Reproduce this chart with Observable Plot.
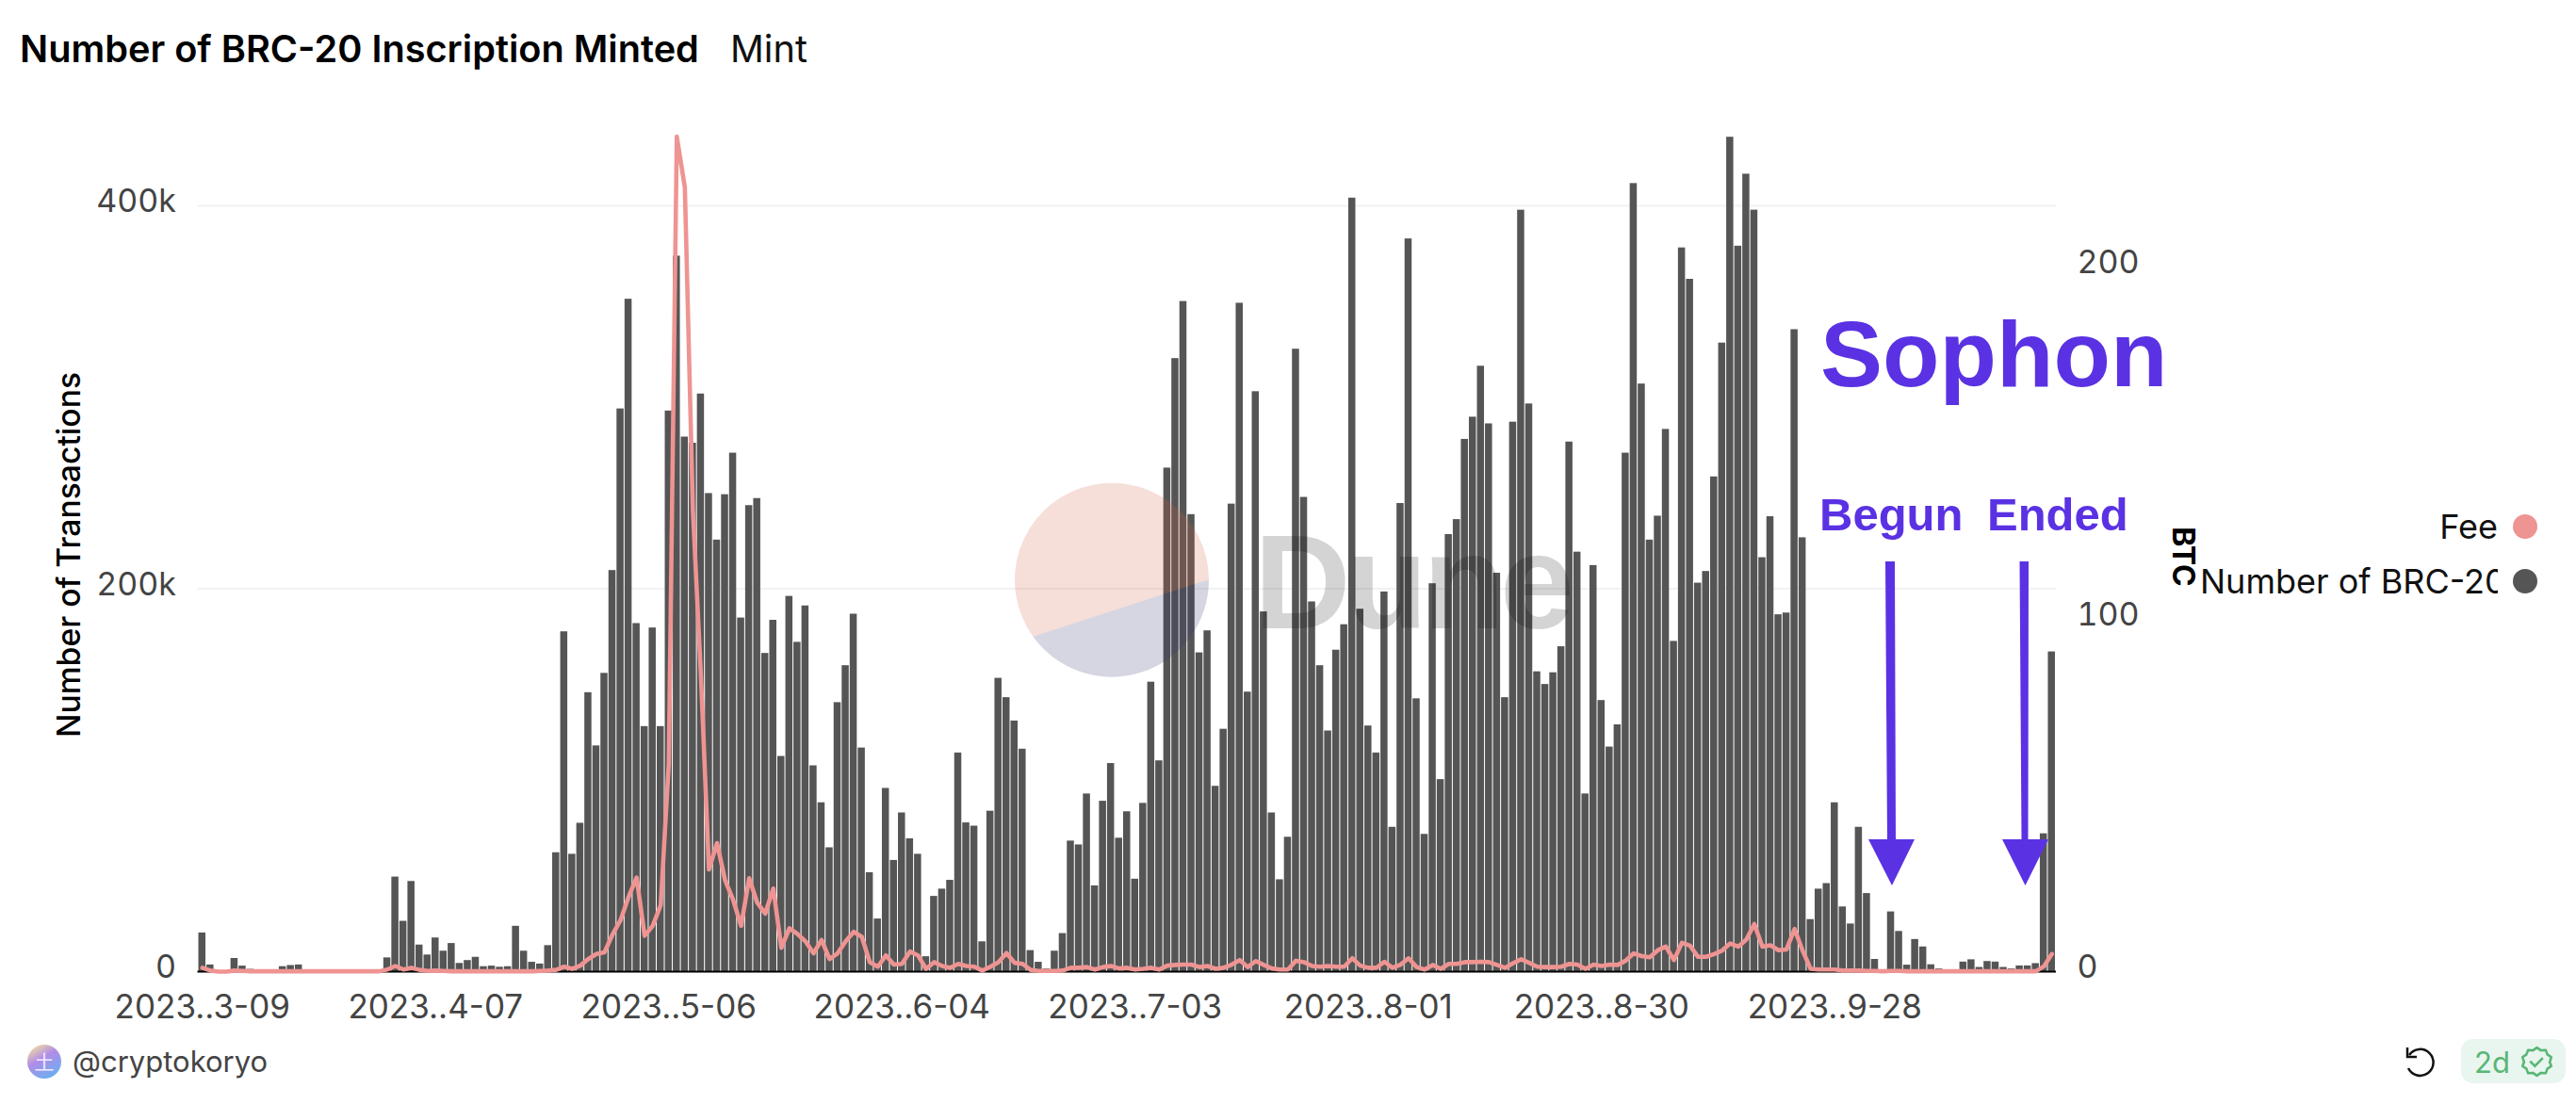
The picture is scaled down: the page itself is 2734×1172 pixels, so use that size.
<!DOCTYPE html>
<html>
<head>
<meta charset="utf-8">
<script src="https://cdn.jsdelivr.net/npm/d3@7"></script>
<script src="https://cdn.jsdelivr.net/npm/@observablehq/plot@0.6"></script>
<style>
html,body{margin:0;padding:0;background:#fff;width:2734px;height:1172px;overflow:hidden;}
#page{position:relative;width:2734px;height:1172px;font-family:Inter,"Noto Sans",sans-serif;}
#head{height:100px;position:relative;}
#title{position:absolute;left:21px;top:28px;font-size:39.7px;font-weight:600;color:#000;white-space:nowrap;}
#mint{position:absolute;left:775px;top:28px;font-size:39.7px;font-weight:400;color:#111;white-space:nowrap;}
#over{position:absolute;left:0;top:0;pointer-events:none;}
</style>
</head>
<body>
<div id="page">
  <div id="head">
    <div id="title">Number of BRC-20 Inscription Minted</div>
    <div id="mint">Mint</div>
  </div>
  <div id="chart"></div>
  <svg id="over" width="2734" height="1172" xmlns="http://www.w3.org/2000/svg">
    <defs>
      <linearGradient id="av" x1="0.2" y1="0" x2="0.8" y2="1">
        <stop offset="0" stop-color="#f2dfa0"/>
        <stop offset="0.4" stop-color="#b08ce8"/>
        <stop offset="1" stop-color="#62b4f0"/>
      </linearGradient>
      <clipPath id="legclip"><rect x="2330" y="590" width="321" height="60"/></clipPath>
    </defs>
    <!-- watermark -->
    <path d="M1283 615.3 A103 103 0 1 0 1096.4 675.8 Z" fill="rgba(210,95,65,0.2)"/>
    <path d="M1283 615.3 A103 103 0 0 1 1096.4 675.8 Z" fill="rgba(44,50,110,0.2)"/>
    <text x="1331" y="667" font-family="'Liberation Sans',sans-serif" font-weight="700" font-size="142" fill="rgba(0,0,0,0.17)" textLength="340" lengthAdjust="spacing">Dune</text>
    <!-- annotations -->
    <g fill="#5a32e3" font-family="'Liberation Sans',sans-serif" font-weight="700">
      <text x="1932" y="410" font-size="99">Sophon</text>
      <text x="1931" y="563" font-size="49">Begun</text>
      <text x="2109" y="563" font-size="49">Ended</text>
      <path d="M2001 596 L2011 596 L2012 891 L2032 891 L2008 940 L1983 891 L2003 891 Z"/>
      <path d="M2143.5 596 L2153 596 L2152.5 891 L2174 891 L2149.5 940 L2125 891 L2145.5 891 Z"/>
    </g>
    <!-- legend -->
    <g font-family="Inter,'Noto Sans',sans-serif" font-size="36" fill="#111">
      <text x="2651" y="572" text-anchor="end">Fee</text>
      <text x="2335" y="630" clip-path="url(#legclip)">Number of BRC-20</text>
      <circle cx="2680" cy="559" r="13" fill="#ee9492"/>
      <circle cx="2680" cy="617" r="13" fill="#555555"/>
    </g>
    <!-- footer -->
    <circle cx="47" cy="1127" r="18" fill="url(#av)"/>
    <text x="47" y="1135" text-anchor="middle" font-size="21" fill="#f3eaff" font-family="'Noto Sans CJK SC',sans-serif">土</text>
    <text x="77" y="1138" font-family="Inter,'Noto Sans',sans-serif" font-size="31" fill="#444">@cryptokoryo</text>
    <path d="M2557 1120 A14 14 0 1 1 2556 1134" fill="none" stroke="#111" stroke-width="2.5"/>
    <path d="M2555 1112 L2555 1122 L2565 1122" fill="none" stroke="#111" stroke-width="2.5"/>
    <rect x="2612" y="1103" width="111" height="47" rx="13" fill="#e9f5ef"/>
    <text x="2626" y="1139" font-family="Inter,'Noto Sans',sans-serif" font-size="31" fill="#58b675">2d</text>
    <g transform="translate(2692.5,1127) scale(0.85) translate(-2692.5,-1129.5)">
      <path d="M2692.5 1112 l5 3.5 6 -.5 2 5.5 5 3.5 -2 6 2 5 -5 3.5 -2 5.5 -6 -.5 -5 3.5 -5 -3.5 -6 .5 -2 -5.5 -5 -3.5 2 -5 -2 -6 5 -3.5 2 -5.5 6 .5 Z" fill="none" stroke="#58b675" stroke-width="3" stroke-linejoin="round"/>
      <path d="M2684 1129 l6 6 l10 -10" fill="none" stroke="#58b675" stroke-width="3"/>
    </g>
  </svg>
</div>
<script>
// Minted inscriptions per day, in thousands
const mints = [
  20.2,3.5,0,0,6.9,2.9,1.2,.3,.3,.6,
  2.6,3.2,3.5,0,0,0,0,0,0,0,
  0,0,0,7.2,49.4,26.3,47.1,13.9,8.7,17.6,
  10.7,14.7,4.3,5.8,7.5,2.6,2.9,2.3,2.6,23.7,
  10.7,4.9,4,13.6,62.1,177.5,61.3,77.5,145.7,117.9,
  155.8,209.5,293.9,351.2,181.8,128,179.5,128,292.8,373.7,
  279.2,276,301.7,249.7,225.4,249.1,270.8,184.7,243.4,247.1,
  166.2,183.5,112.4,196,172,191,107.5,88.2,64.7,140.5,
  159.8,186.7,116.8,51.7,27.5,95.7,58.1,82.9,69.4,61.3,
  7.8,39.3,43.1,47.7,114.2,77.7,76,15.6,83.8,153.2,
  143.1,130.9,116.2,11,4.9,1.4,10.7,19.9,68.2,66.2,
  92.8,44.8,89,108.7,69.7,83.5,48.3,87.9,151.2,110.1,
  263,320.2,350,238.7,166.5,178,96.8,126.6,244.2,349.1,
  146,302.9,187.9,82.9,48,70.2,325.1,247.7,193.1,159.8,
  125.7,167.9,181.2,404,189.3,128.3,114.2,198.3,75.4,244.5,
  382.7,142.5,71.7,202.6,100.3,228.3,236.1,278,289.6,316.2,
  286.1,208.1,143.1,287,397.7,296.5,156.6,150,156.1,169.7,
  276.6,219.1,92.8,212.1,141.6,117.3,128.9,270.8,411.6,306.9,
  225.4,237.9,283.2,172.5,378,361.6,202.9,209,258.4,328.3,
  435.8,378.9,416.5,397.7,216.2,237.6,186.4,187.3,335.3,226.6,
  27.2,43.1,46,88.2,33.8,24.9,75.4,40.8,6.4,.3,
  31.2,21,3.4,16.8,12.9,3.6,1.4,.3,.3,5,
  6.2,2.2,5.3,5,2.2,1.4,3,3,4.2,72,167
];
// Fee per day, in BTC
const fees = [
  1.1,.3,0,0,.3,.2,.1,.1,.1,.1,
  .1,.1,.1,.1,.1,.1,.1,.1,.1,.1,
  .1,.1,.1,.6,1.6,.6,1.1,.5,.2,.3,
  .2,.1,.1,.1,.1,.1,.1,.1,.1,.1,
  .1,.1,.2,.3,.5,1.4,.8,1.7,3.6,5,
  5.5,10.5,14.6,21.2,26.7,10.2,13,18.9,58.9,237,
  222.6,131,84,29,36.5,26,20.4,13,26.5,19.6,
  16.5,23.6,6.8,12.3,10.7,8.6,5.2,9,3.6,5.2,
  8.6,11.3,9.9,2.7,1.4,4.6,2,2.2,5.7,4.6,
  .8,2.7,1.6,1.1,2.2,1.6,1.4,.3,1.4,2.7,
  5.3,2.5,2.2,.5,.2,.2,.2,.3,1.1,1.1,
  1.3,.6,1.3,1.6,.9,1.1,.6,.8,1.1,.6,
  1.7,1.9,2,2,1.3,1.6,.8,1.1,2,3.3,
  1.3,3,1.9,.9,.6,.6,3.1,2.7,1.6,1.4,
  1.6,1.4,1.4,3.8,1.7,1.1,1.1,2.8,1.1,2,
  3.8,1.3,.6,1.9,.8,2.2,2.2,2.7,2.7,2.8,
  2.7,1.9,1.1,2.4,3.5,2.5,1.4,1.3,1.3,1.4,
  2.2,2,.8,2,1.6,2,1.9,3.1,5.2,4.4,
  4.1,6.1,7.1,3.3,8.2,7.4,4.2,4.2,5,6,
  8,7.1,9.1,13.5,7.1,7.5,6.1,6.3,12.1,6,
  .8,.6,.6,.6,.3,.3,.3,.2,.2,.1,
  .2,.2,.1,.1,.1,.1,.1,.1,.1,.1,
  .1,.1,.1,.1,.1,.1,.1,.1,.1,1.5,5
];
const tickDays = ["2023-03-09","2023-04-07","2023-05-06","2023-06-04","2023-07-03","2023-08-01","2023-08-30","2023-09-28"];
const tickLabels = ["2023..3-09","2023..4-07","2023..5-06","2023..6-04","2023..7-03","2023..8-01","2023..8-30","2023..9-28"];
const leftTicks = [0,200,400];
const rightTicks = [0,100,200];
const kPerBtc = 1.84; // ratio between the two value axes

const start = new Date(Date.UTC(2023,2,9));
const days = mints.map((_,i)=>d3.utcFormat("%Y-%m-%d")(d3.utcDay.offset(start,i)));
const rows = days.map((day,i)=>({day,mint:mints[i],fee:fees[i]}));
const fontTick = "Inter, 'Noto Sans', sans-serif";

const chart = Plot.plot({
  width:2734, height:1000,
  marginLeft:209.5, marginRight:552, marginTop:46, marginBottom:69,
  style:{fontFamily:fontTick, background:"transparent"},
  x:{type:"band", domain:days, padding:0.12},
  y:{domain:[0,435.4]},
  marks:[
    Plot.ruleY([200,400],{stroke:"#f2f2f2",strokeWidth:2}),
    Plot.barY(rows,{x:"day",y:"mint",fill:"#555555"}),
    Plot.ruleY([0],{stroke:"#000",strokeWidth:2}),
    Plot.lineY(rows,{x:"day",y:d=>d.fee*kPerBtc,stroke:"#ee9492",strokeWidth:4.6,strokeLinejoin:"round",curve:"linear"}),
    Plot.axisX({ticks:tickDays,tickFormat:d=>tickLabels[tickDays.indexOf(d)],tickSize:0,tickPadding:25,fontSize:35,fill:"#444",label:null}),
    Plot.axisY({ticks:leftTicks,tickFormat:d=>d?d+"k":"0",tickSize:0,tickPadding:23,fontSize:34,fill:"#444",dy:-4,label:null}),
    Plot.axisY({anchor:"right",ticks:rightTicks.map(d=>d*kPerBtc),tickFormat:d=>String(Math.round(d/kPerBtc)),tickSize:0,tickPadding:22,fontSize:34,fill:"#444",dy:-4,label:null}),
    Plot.text(["Number of Transactions"],{frameAnchor:"left",textAnchor:"middle",dx:-136,rotate:-90,fontSize:33.7,fontWeight:500,fill:"#000"}),
    Plot.text(["BTC"],{frameAnchor:"right",textAnchor:"middle",dx:134,dy:2,rotate:90,fontSize:32,fontWeight:700,fill:"#000"})
  ]
});
document.getElementById("chart").appendChild(chart);
</script>
</body>
</html>
